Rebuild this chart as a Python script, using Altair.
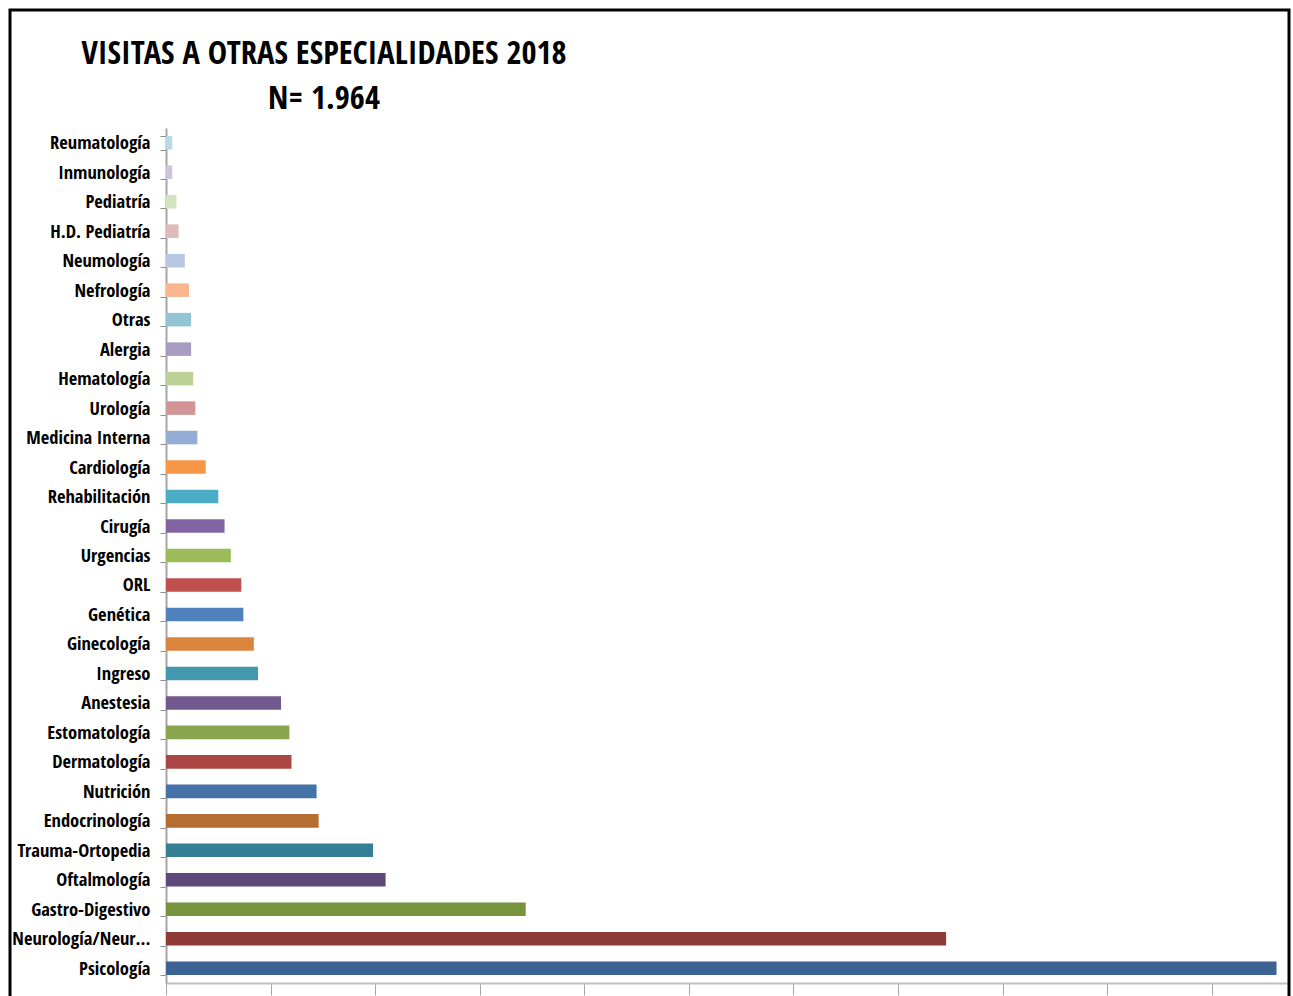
import altair as alt
import pandas as pd

categories = [
    "Reumatología", "Inmunología", "Pediatría", "H.D. Pediatría", "Neumología",
    "Nefrología", "Otras", "Alergia", "Hematología", "Urología",
    "Medicina Interna", "Cardiología", "Rehabilitación", "Cirugía", "Urgencias",
    "ORL", "Genética", "Ginecología", "Ingreso", "Anestesia",
    "Estomatología", "Dermatología", "Nutrición", "Endocrinología", "Trauma-Ortopedia",
    "Oftalmología", "Gastro-Digestivo", "Neurología/Neurocirugía", "Psicología",
]
values = [
    3, 3, 5, 6, 9,
    11, 12, 12, 13, 14,
    15, 19, 25, 28, 31,
    36, 37, 42, 44, 55,
    59, 60, 72, 73, 99,
    105, 172, 373, 531,
]
colors = [
    "#B7DBE6", "#CDC3DC", "#D3E2BF", "#E0B9BA", "#B9C8E2",
    "#F9B68F", "#93C4D6", "#A99CC1", "#BBD196", "#D29494",
    "#95ADD5", "#F79646", "#4BACC6", "#8064A2", "#9BBB59",
    "#C0504D", "#4F81BD", "#DB843D", "#4198AF", "#71588F",
    "#89A54E", "#AA4643", "#4572A7", "#B66D31", "#347F94",
    "#5F497A", "#77933C", "#8E3B38", "#3C6393",
]

title_lines = ["VISITAS A OTRAS ESPECIALIDADES 2018", "N= 1.964"]
x_ticks = [0, 50, 100, 150, 200, 250, 300, 350, 400, 450, 500]

df = pd.DataFrame({"cat": categories, "val": values})

FONT = "Open Sans Condensed, Roboto Condensed, sans-serif"
W, H = 1121, 855

bars = alt.Chart(df).mark_bar().encode(
    y=alt.Y("cat:N", sort=categories,
            scale=alt.Scale(paddingInner=0.54, paddingOuter=0.27),
            axis=alt.Axis(title=None, tickBand="extent", tickSize=6,
                          tickColor="#8C8C8C", domainColor="#A6A6A6", domainWidth=2,
                          labelFont=FONT, labelFontSize=18.5, labelFontWeight="bold",
                          labelColor="#000000", labelPadding=10, labelLimit=143,
                          labelBound=False)),
    x=alt.X("val:Q", scale=alt.Scale(domain=[0, 536], nice=False),
            axis=alt.Axis(title=None, values=x_ticks, labels=False, grid=False,
                          tickSize=12, tickColor="#A6A6A6", domainColor="#BFBFBF",
                          domainWidth=2)),
    color=alt.Color("cat:N", scale=alt.Scale(domain=categories, range=colors), legend=None),
)

t1 = alt.Chart(pd.DataFrame({"t": [title_lines[0]]})).mark_text(
    font=FONT, fontSize=32.5, fontWeight="bold", color="black", align="center", baseline="middle"
).encode(x=alt.value(158), y=alt.value(-74), text="t:N")

t2 = alt.Chart(pd.DataFrame({"t": [title_lines[1]]})).mark_text(
    font=FONT, fontSize=32.5, fontWeight="bold", color="black", align="center", baseline="middle"
).encode(x=alt.value(158), y=alt.value(-29), text="t:N")

border = alt.Chart(pd.DataFrame({"a": [0]})).mark_rect(
    fill=None, stroke="black", strokeWidth=3, clip=False
).encode(x=alt.value(-156), x2=alt.value(1123), y=alt.value(-118), y2=alt.value(900))

chart = alt.layer(bars, t1, t2, border).properties(
    width=W, height=H,
    autosize=alt.AutoSizeParams(type="none"),
    padding={"left": 166, "top": 128, "right": 6, "bottom": 13},
    background="white",
).configure_view(stroke=None)

chart.save("out.html", embed_options={"renderer": "svg", "actions": False})
